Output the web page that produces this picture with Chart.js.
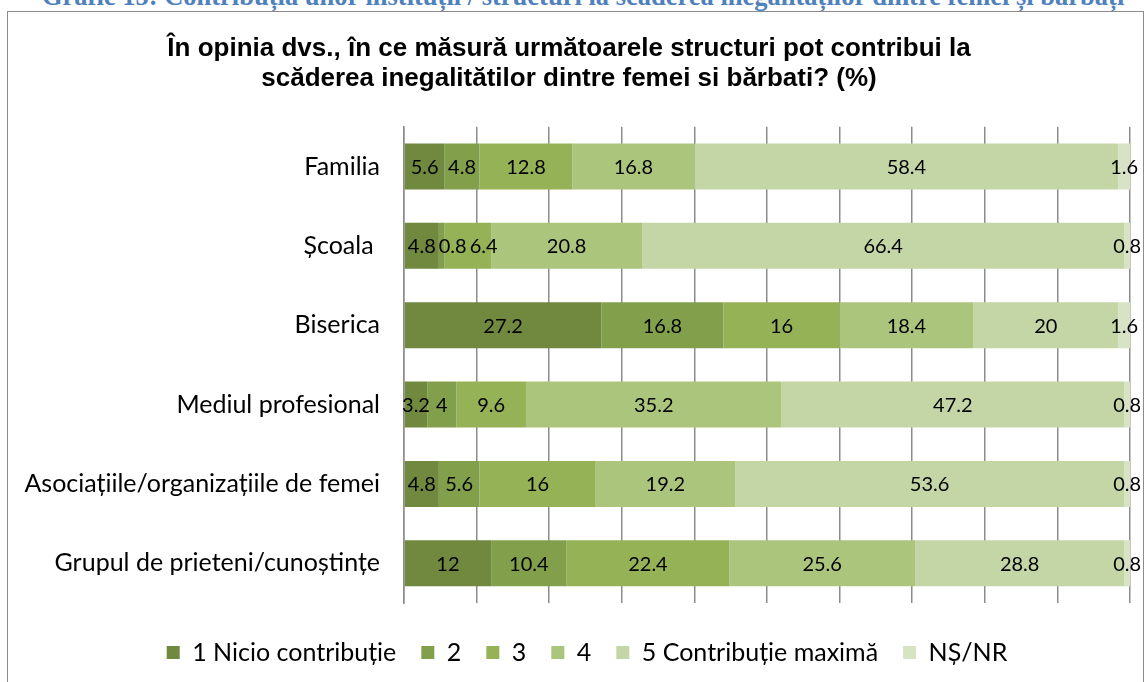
<!DOCTYPE html>
<html lang="ro">
<head>
<meta charset="utf-8">
<title>Contribuția unor instituții / structuri</title>
<script src="https://cdn.jsdelivr.net/npm/chart.js@4.4.1/dist/chart.umd.min.js"></script>
<style>
    body { margin: 0; background: #fff; overflow: hidden; }
    #header {
        position: absolute; left: 42px; top: -17px;
        font: bold 26.5px "Liberation Serif", serif; line-height: 26.5px;
        color: #4f81bd; white-space: nowrap;
    }
    #frame {
        position: absolute; left: 7px; top: 11px;
        width: 1135px; height: 670px;
        border: 1px solid #8c8c8c;
        background: #fff;
    }
    canvas { display: block; }
</style>
</head>
<body>
<div id="header">Grafic 15: Contribuția unor instituții / structuri la scăderea inegalităților dintre femei și bărbați</div>
<div id="frame"><canvas id="structuriChart" width="1135" height="670"></canvas></div>

<script>
// categories (top to bottom)
const categories = [
    'Familia',
    'Școala ',
    'Biserica',
    'Mediul profesional',
    'Asociațiile/organizațiile de femei',
    'Grupul de prieteni/cunoștințe'
];

// series (% of answers)
const seriesNames = ['1 Nicio contribuție', '2', '3', '4', '5 Contribuție maximă', 'NȘ/NR'];
const nicioContributie = [5.6, 4.8, 27.2, 3.2, 4.8, 12];
const nivel2 = [4.8, 0.8, 16.8, 4, 5.6, 10.4];
const nivel3 = [12.8, 6.4, 16, 9.6, 16, 22.4];
const nivel4 = [16.8, 20.8, 18.4, 35.2, 19.2, 25.6];
const contributieMaxima = [58.4, 66.4, 20, 47.2, 53.6, 28.8];
const nsNr = [1.6, 0.8, 1.6, 0.8, 0.8, 0.8];

const seriesColors = ['#71893f', '#82a04b', '#95b257', '#acc57d', '#c4d5a6', '#d8e3c6'];

const labelFont = '"Lato", "Open Sans", sans-serif';

/**
 * Write the value in the middle of every bar segment,
 * nudging a label to the right when it would run into the previous one
 */
const segmentLabels = {
    id: 'segmentLabels',
    afterDatasetsDraw(chart) {
        const ctx = chart.ctx;
        ctx.save();
        ctx.font = '20px ' + labelFont;
        ctx.fillStyle = '#000';
        ctx.textAlign = 'center';
        ctx.textBaseline = 'middle';
        chart.data.labels.forEach((cat, j) => {
            let lastRight = -Infinity;
            chart.data.datasets.forEach((ds, i) => {
                const bar = chart.getDatasetMeta(i).data[j];
                const text = String(ds.data[j]);
                const w = ctx.measureText(text).width;
                const p = bar.getCenterPoint();
                let x = p.x;
                if (x - w / 2 < lastRight + 3) {
                    x = lastRight + 3 + w / 2;
                }
                ctx.fillText(text, x, p.y + 1);
                lastRight = x + w / 2;
            });
        });
        ctx.restore();
    }
};

// move the legend a little to the right, like in the original figure
const legendShift = {
    id: 'legendShift',
    afterLayout(chart) {
        chart.legend.left += 18;
        chart.legend.right += 18;
    }
};

document.addEventListener('DOMContentLoaded', function() {
    const values = [nicioContributie, nivel2, nivel3, nivel4, contributieMaxima, nsNr];

    new Chart(document.getElementById('structuriChart'), {
        type: 'bar',
        data: {
            labels: categories,
            datasets: seriesNames.map((name, i) => ({
                label: name,
                data: values[i],
                backgroundColor: seriesColors[i],
                borderWidth: 0,
                barPercentage: 0.58,
                categoryPercentage: 1
            }))
        },
        options: {
            indexAxis: 'y',
            responsive: false,
            animation: false,
            layout: { padding: { left: 0, right: 13, top: 0, bottom: 7 } },
            scales: {
                x: {
                    stacked: true,
                    min: 0,
                    max: 100,
                    ticks: { display: false, stepSize: 10 },
                    grid: { color: '#8c8c8c', lineWidth: 1.5, drawTicks: false },
                    border: { display: false },
                    afterFit: scale => { scale.height = 12; }
                },
                y: {
                    stacked: true,
                    grid: { display: false, drawTicks: false },
                    border: { display: true, color: '#8c8c8c', width: 1.5 },
                    ticks: {
                        color: '#000',
                        padding: 24,
                        font: { family: labelFont, size: 25 }
                    },
                    afterFit: scale => { scale.width = 396; }
                }
            },
            plugins: {
                title: {
                    display: true,
                    text: [
                        'În opinia dvs., în ce măsură următoarele structuri pot contribui la',
                        'scăderea inegalitătilor dintre femei si bărbati? (%)'
                    ],
                    color: '#000',
                    font: { family: '"Liberation Sans", Arial, sans-serif', size: 26, weight: 'bold', lineHeight: 1.15 },
                    padding: { top: 22, bottom: 33 }
                },
                legend: {
                    position: 'bottom',
                    labels: {
                        color: '#000',
                        boxWidth: 13,
                        boxHeight: 13,
                        padding: 25,
                        font: { family: labelFont, size: 25 }
                    }
                },
                tooltip: { enabled: false }
            }
        },
        plugins: [segmentLabels, legendShift]
    });
});
</script>
</body>
</html>
